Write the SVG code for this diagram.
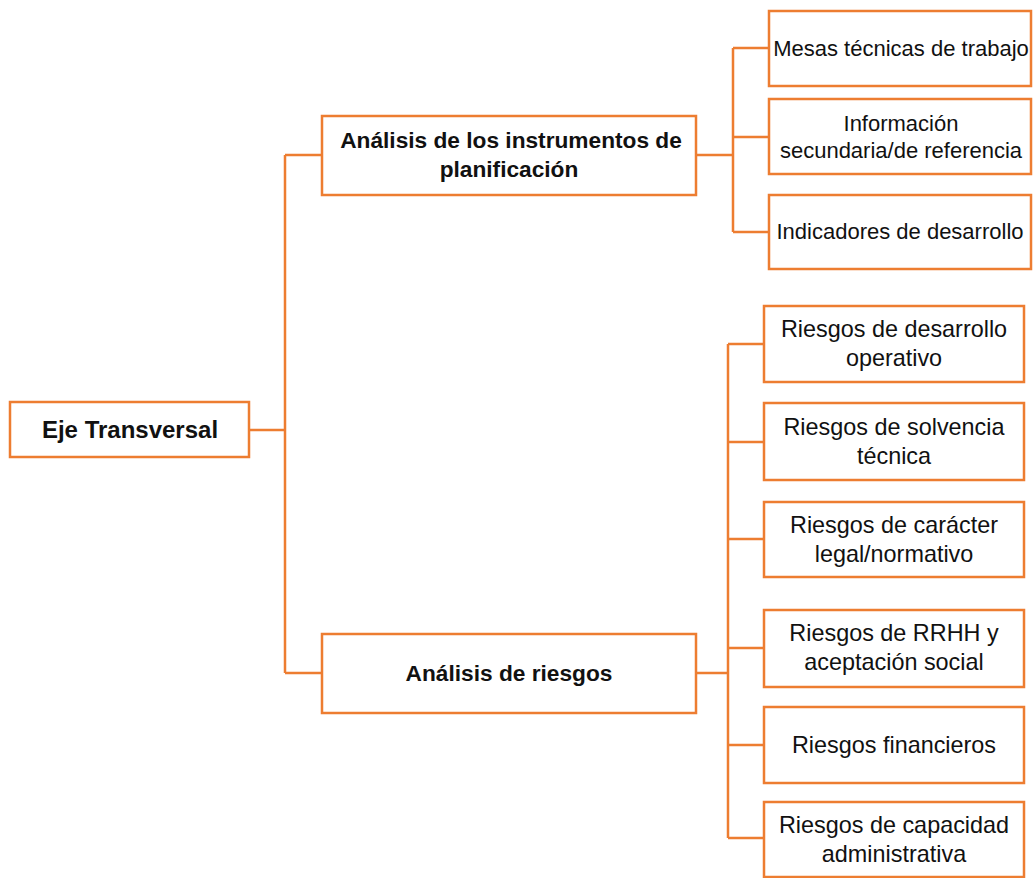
<svg xmlns="http://www.w3.org/2000/svg" width="1033" height="878" viewBox="0 0 1033 878">
<style>
.box{fill:#fff;stroke:#ED7D31;stroke-width:2.5}
.con{fill:none;stroke:#ED7D31;stroke-width:2.5}
text{font-family:"Liberation Sans",Arial,sans-serif;fill:#111;text-anchor:middle}
.b{font-weight:bold;font-size:22.7px}
.r{font-size:22px}
.k{font-size:23.4px}
</style>
<rect width="1033" height="878" fill="#fff"/>
<g id="connectors">
<path class="con" d="M249 430H285M285 155V673M285 155H322M285 673H322"/>
<path class="con" d="M696 155H733M733 48V232M733 48H769M733 137H769M733 232H769"/>
<path class="con" d="M696 673H728M728 344V838M728 344H764M728 442H764M728 539H764M728 648H764M728 745H764M728 838H764"/>
</g>
<g id="eje"><rect class="box" x="10" y="402" width="239" height="55"/><text class="b" x="130" y="438" style="font-size:24px">Eje Transversal</text></g>
<g id="instrumentos"><rect class="box" x="322" y="116" width="374" height="79"/><text class="b" x="511" y="148">Análisis de los instrumentos de</text><text class="b" x="509" y="177">planificación</text></g>
<g id="riesgos"><rect class="box" x="322" y="634" width="374" height="79"/><text class="b" x="509" y="681">Análisis de riesgos</text></g>
<g id="mesas"><rect class="box" x="769" y="11" width="262" height="75"/><text class="r" x="901" y="56">Mesas técnicas de trabajo</text></g>
<g id="informacion"><rect class="box" x="769" y="99" width="262" height="75"/><text class="r" x="901" y="131">Información</text><text class="r" x="901" y="158">secundaria/de referencia</text></g>
<g id="indicadores"><rect class="box" x="769" y="195" width="262" height="74"/><text class="r" x="900" y="239">Indicadores de desarrollo</text></g>
<g id="r1"><rect class="box" x="764" y="306" width="260" height="76"/><text class="k" x="894" y="337">Riesgos de desarrollo</text><text class="k" x="894" y="366">operativo</text></g>
<g id="r2"><rect class="box" x="764" y="403" width="260" height="77"/><text class="k" x="894" y="435">Riesgos de solvencia</text><text class="k" x="894" y="464">técnica</text></g>
<g id="r3"><rect class="box" x="764" y="502" width="260" height="75"/><text class="k" x="894" y="533">Riesgos de carácter</text><text class="k" x="894" y="562">legal/normativo</text></g>
<g id="r4"><rect class="box" x="764" y="610" width="260" height="77"/><text class="k" x="894" y="641">Riesgos de RRHH y</text><text class="k" x="894" y="670">aceptación social</text></g>
<g id="r5"><rect class="box" x="764" y="707" width="260" height="76"/><text class="k" x="894" y="753">Riesgos financieros</text></g>
<g id="r6"><rect class="box" x="764" y="802" width="260" height="75"/><text class="k" x="894" y="833">Riesgos de capacidad</text><text class="k" x="894" y="862">administrativa</text></g>
</svg>
